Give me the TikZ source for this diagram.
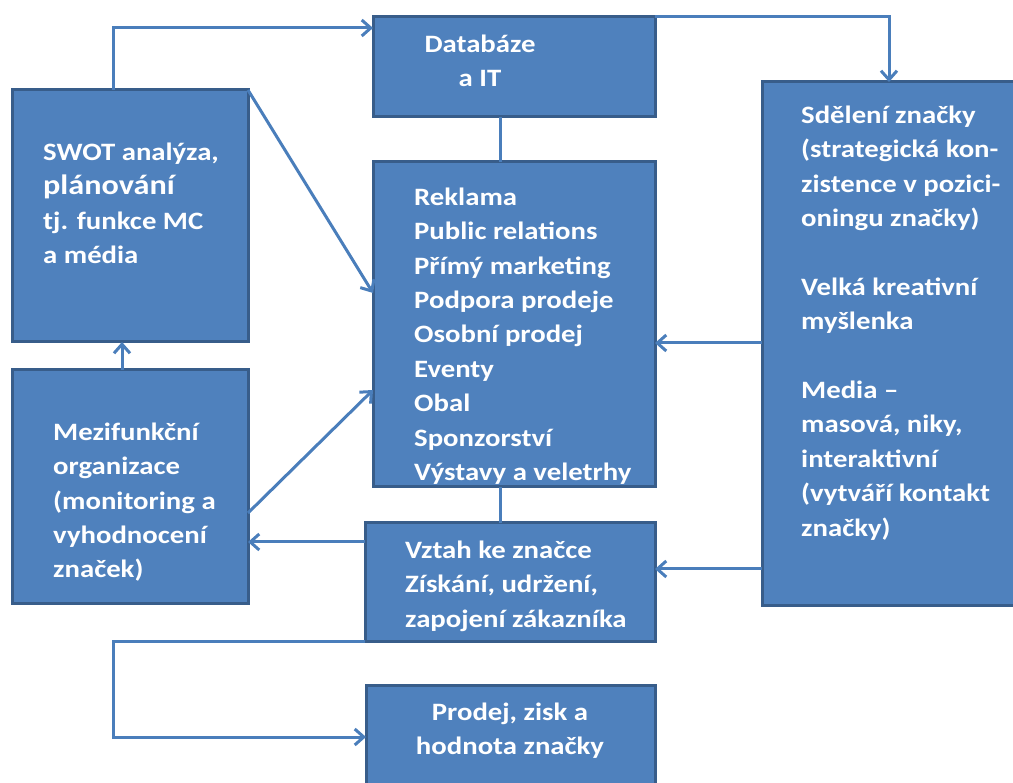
\documentclass[tikz,border=0pt]{standalone}
\usepackage{fontspec}
\setmainfont[FakeStretch=1.15]{Carlito}
\usetikzlibrary{arrows.meta,calc}
\definecolor{boxfill}{HTML}{4F81BD}
\definecolor{boxline}{HTML}{385D8A}
\definecolor{connc}{HTML}{4A7EBB}
\begin{document}
\begin{tikzpicture}[x=1pt,y=-1pt,
  box/.style={draw=boxline, fill=boxfill, line width=3pt, rectangle, anchor=north west, inner sep=0pt, outer sep=0pt},
  txt/.style={text=white, font=\bfseries\fontsize{25}{34.4}\selectfont, inner sep=0pt, align=left, anchor=north west},
  ctxt/.style={txt, align=center, anchor=north},
  conn/.style={draw=connc, line width=3pt},
  arr/.style={conn, -{Straight Barb[length=9pt,width=16pt]}}]
\path[use as bounding box] (0,0) rectangle (1013,783);
\clip (0,0) rectangle (1013,783);
% boxes
\node[box, minimum width=282pt, minimum height=100pt] (db) at (373,17) {};
\node[box, minimum width=236pt, minimum height=252pt] (swot) at (12,90) {};
\node[box, minimum width=236pt, minimum height=233pt] (mez) at (12,370) {};
\node[box, minimum width=282pt, minimum height=325pt] (ctr) at (373,162) {};
\node[box, minimum width=290pt, minimum height=118pt] (vztah) at (365,523) {};
\node[box, minimum width=289pt, minimum height=110pt] (prodej) at (366,685) {};
\node[box, minimum width=260pt, minimum height=523pt] (sd) at (762,82) {};
% texts
\node[ctxt] (tdb) at (480,28) {\strut Databáze\\a IT};
\node[txt] (tswot) at (43,136) {\strut SWOT analýza,\\{\fontsize{28}{35}\selectfont plánování}\\tj. funkce MC\\a média};
\node[txt] (tctr) at (414,181) {\strut Reklama\\Public relations\\Přímý marketing\\Podpora prodeje\\Osobní prodej\\Eventy\\Obal\\Sponzorství\\Výstavy a veletrhy};
\node[txt] (tsd) at (801,99) {\strut Sdělení značky\\(strategická kon-\\zistence v pozici-\\oningu značky)\\\strut\\Velká kreativní\\myšlenka\\\strut\\Media –\\masová, niky,\\interaktivní\\(vytváří kontakt\\značky)};
\node[txt] (tmez) at (53,416) {\strut Mezifunkční\\organizace\\(monitoring a\\vyhodnocení\\značek)};
\node[txt] (tvztah) at (405,534) {\strut Vztah ke značce\\Získání, udržení,\\zapojení zákazníka};
\node[ctxt] (tprodej) at (510,696) {\strut Prodej, zisk a\\hodnota značky};
% connectors
\draw[arr] ($(swot.north west)+(101,0)$) |- ($(db.north west)+(0,11)$);
\draw[arr] (db.north east) -| ($(sd.north west)+(127,0)$);
\draw[conn] ($(db.south west)+(127,0)$) -- ($(ctr.north west)+(127,0)$);
\draw[arr] (swot.north east) -- ($(ctr.north west)+(0,131)$);
\draw[arr] ($(mez.north west)+(110,0)$) -- ($(swot.south west)+(110,0)$);
\draw[arr] ($(mez.north east)+(0,143)$) -- ($(ctr.north west)+(0,228)$);
\draw[arr] ($(vztah.north west)+(0,19)$) -- ($(mez.north east)+(0,172)$);
\draw[conn] ($(ctr.south west)+(127,0)$) -- ($(vztah.north west)+(135,0)$);
\draw[arr] ($(sd.north west)+(0,261)$) -- ($(ctr.north east)+(0,181)$);
\draw[arr] ($(sd.north west)+(0,487)$) -- ($(vztah.north east)+(0,46)$);
\draw[arr] (vztah.south west) -- ++(-252,0) |- ($(prodej.north west)+(0,52)$);
\end{tikzpicture}
\end{document}
